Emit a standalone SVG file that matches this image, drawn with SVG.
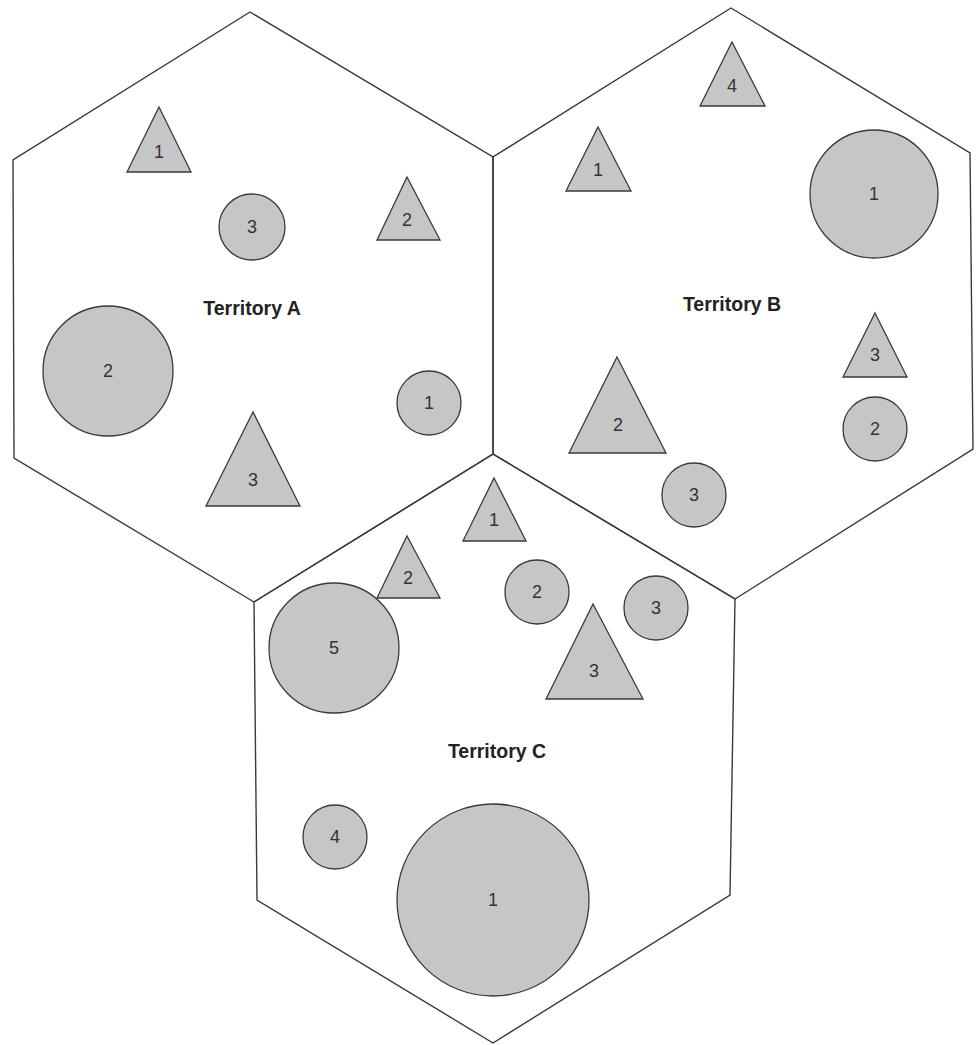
<svg xmlns="http://www.w3.org/2000/svg" width="977" height="1045" viewBox="0 0 977 1045">
<style>
.hex{fill:none;stroke:#3a3a3a;stroke-width:1.4;stroke-linejoin:miter}
.sh{fill:#c6c6c6;stroke:#3a3a3a;stroke-width:1.3}
.n{font-family:"Liberation Sans",Arial,sans-serif;font-size:18px;fill:#333;text-anchor:middle}
.t{font-family:"Liberation Sans",Arial,sans-serif;font-size:19.5px;font-weight:bold;fill:#222;text-anchor:middle}
</style>
<rect width="977" height="1045" fill="#fff"/>
<g id="territory-a-outline"><polygon class="hex" points="250,12 493,157 493,454 254,602 14,458 13,160"/></g>
<g id="territory-b-outline"><polygon class="hex" points="731,8 970,153 973,449 735,599 493,454 493,157"/></g>
<g id="territory-c-outline"><polygon class="hex" points="493,454 735,599 730,895 493,1043 257,900 254,602"/></g>
<g id="connectors"></g>

<g id="label-a"><text class="t" x="252" y="315">Territory A</text></g>
<g id="a-tri1"><polygon class="sh" points="159,107 191,172 127,172"/><text class="n" x="159" y="158">1</text></g>
<g id="a-circ3"><circle class="sh" cx="252" cy="227" r="33"/><text class="n" x="252" y="233">3</text></g>
<g id="a-tri2"><polygon class="sh" points="407,177 440,240 377,240"/><text class="n" x="407" y="226">2</text></g>
<g id="a-circ2"><circle class="sh" cx="108" cy="371" r="65"/><text class="n" x="108" y="377">2</text></g>
<g id="a-circ1"><circle class="sh" cx="429" cy="403" r="32"/><text class="n" x="429" y="409">1</text></g>
<g id="a-tri3"><polygon class="sh" points="253,412 300,506 206,506"/><text class="n" x="253" y="486">3</text></g>

<g id="label-b"><text class="t" x="732" y="311">Territory B</text></g>
<g id="b-tri4"><polygon class="sh" points="732,42 765,106 700,106"/><text class="n" x="732" y="92">4</text></g>
<g id="b-tri1"><polygon class="sh" points="598,127 631,191 566,191"/><text class="n" x="598" y="176">1</text></g>
<g id="b-circ1"><circle class="sh" cx="874" cy="194" r="64"/><text class="n" x="874" y="200">1</text></g>
<g id="b-tri3"><polygon class="sh" points="875,313 907,377 843,377"/><text class="n" x="875" y="361">3</text></g>
<g id="b-circ2"><circle class="sh" cx="875" cy="429" r="32"/><text class="n" x="875" y="435">2</text></g>
<g id="b-tri2"><polygon class="sh" points="617,357 666,453 569,453"/><text class="n" x="618" y="431">2</text></g>
<g id="b-circ3"><circle class="sh" cx="694" cy="495" r="32"/><text class="n" x="694" y="501">3</text></g>

<g id="label-c"><text class="t" x="497" y="758">Territory C</text></g>
<g id="c-tri1"><polygon class="sh" points="494,478 526,541 463,541"/><text class="n" x="494" y="526">1</text></g>
<g id="c-circ5"><circle class="sh" cx="334" cy="648" r="65"/><text class="n" x="334" y="654">5</text></g>
<g id="c-tri2"><polygon class="sh" points="407,536 440,598 377,598"/><text class="n" x="408" y="584">2</text></g>
<g id="c-circ2"><circle class="sh" cx="537" cy="592" r="32"/><text class="n" x="537" y="598">2</text></g>
<g id="c-circ3"><circle class="sh" cx="656" cy="608" r="32"/><text class="n" x="656" y="614">3</text></g>
<g id="c-tri3"><polygon class="sh" points="593,604 643,699 546,699"/><text class="n" x="594" y="677">3</text></g>
<g id="c-circ4"><circle class="sh" cx="335" cy="837" r="32"/><text class="n" x="335" y="843">4</text></g>
<g id="c-circ1"><circle class="sh" cx="493" cy="900" r="96"/><text class="n" x="493" y="906">1</text></g>
</svg>
